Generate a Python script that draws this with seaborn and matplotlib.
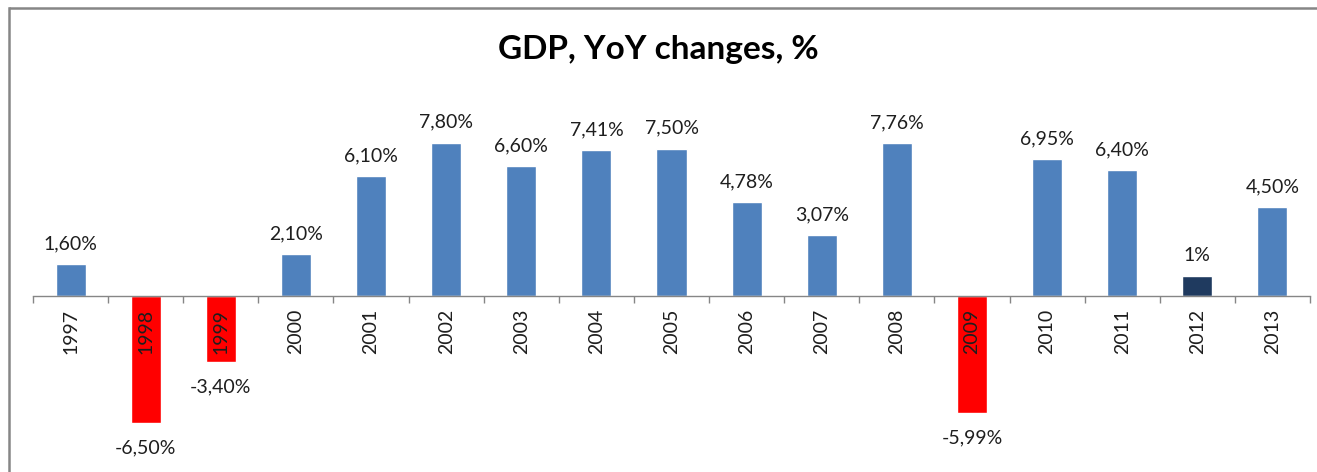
import matplotlib
matplotlib.use("Agg")
import matplotlib.pyplot as plt
from matplotlib.lines import Line2D
from matplotlib.ticker import FixedLocator
import seaborn as sns
import pandas as pd

# GDP growth, year over year, %
years = ["1997", "1998", "1999", "2000", "2001", "2002", "2003", "2004", "2005",
         "2006", "2007", "2008", "2009", "2010", "2011", "2012", "2013"]
growth = [1.60, -6.50, -3.40, 2.10, 6.10, 7.80, 6.60, 7.41, 7.50,
          4.78, 3.07, 7.76, -5.99, 6.95, 6.40, 1.00, 4.50]
highlight_year = "2012"

BLUE = "#4F81BD"
RED = "#FF0000"
NAVY = "#1F3A5F"
GRAY = "#868686"
TEXT = "#1E1E1E"


def bar_color(year, value):
    if year == highlight_year:
        return NAVY
    return RED if value < 0 else BLUE


def fmt_pct(value):
    if float(value).is_integer():
        return f"{int(value)}%"
    return f"{value:.2f}".replace(".", ",") + "%"


df = pd.DataFrame({"year": years, "growth": growth})
palette = {y: bar_color(y, v) for y, v in zip(years, growth)}

sns.set_theme(style="white")
plt.rcParams["font.family"] = ["Lato", "DejaVu Sans"]

W, H = 1317, 472
fig = plt.figure(figsize=(W / 100, H / 100), dpi=100)
fig.patch.set_facecolor("white")

# chart area frame: top and left edges
top_y = 1 - 8 / H
left_x = 9 / W
fig.add_artist(Line2D([left_x, 1.0], [top_y, top_y], transform=fig.transFigure,
                      color=GRAY, linewidth=1.8, solid_capstyle="butt"))
fig.add_artist(Line2D([left_x, left_x], [0.0, top_y], transform=fig.transFigure,
                      color=GRAY, linewidth=1.8, solid_capstyle="projecting"))

zero_px = 176.5  # height of the zero line from the bottom, px
ymin, ymax = -9.0, 9.0
px_per_unit = 19.6
ax_h = (ymax - ymin) * px_per_unit
ax_bottom = zero_px - (0 - ymin) * px_per_unit
ax = fig.add_axes([33 / W, ax_bottom / H, (1310 - 33) / W, ax_h / H])
ax.patch.set_alpha(0)

sns.barplot(data=df, x="year", y="growth", hue="year", palette=palette,
            legend=False, width=0.4, saturation=1, ax=ax, order=years)

ax.set_ylim(ymin, ymax)
ax.set_xlim(-0.5, len(years) - 0.5)
ax.set_xlabel("")
ax.set_ylabel("")
ax.set_yticks([])

for side in ("top", "right", "left"):
    ax.spines[side].set_visible(False)
ax.spines["bottom"].set_position(("data", 0))
ax.spines["bottom"].set_color(GRAY)
ax.spines["bottom"].set_linewidth(1.0)
ax.set_axisbelow(False)

ax.xaxis.set_minor_locator(FixedLocator([i - 0.5 for i in range(len(years) + 1)]))
ax.tick_params(axis="x", which="minor", bottom=True, direction="out",
               length=5, width=1.0, color=GRAY)
ax.tick_params(axis="x", which="major", bottom=True, length=0, pad=9.5,
               labelsize=14, labelcolor=TEXT, labelrotation=90)
for lab in ax.get_xticklabels():
    lab.set_va("top")
    lab.set_zorder(5)

for i, v in enumerate(growth):
    if v >= 0:
        ax.annotate(fmt_pct(v), (i, v), xytext=(0, 8.5), textcoords="offset points",
                    ha="center", va="bottom", fontsize=14, color=TEXT)
    else:
        ax.annotate(fmt_pct(v), (i, v), xytext=(0, -12), textcoords="offset points",
                    ha="center", va="top", fontsize=14, color=TEXT)

fig.text(0.5, 1 - 50 / H, "GDP, YoY changes, %", ha="center", va="center",
         fontsize=24, fontweight="bold", color="#000000")

fig.savefig("out.png", dpi=100, facecolor="white")
